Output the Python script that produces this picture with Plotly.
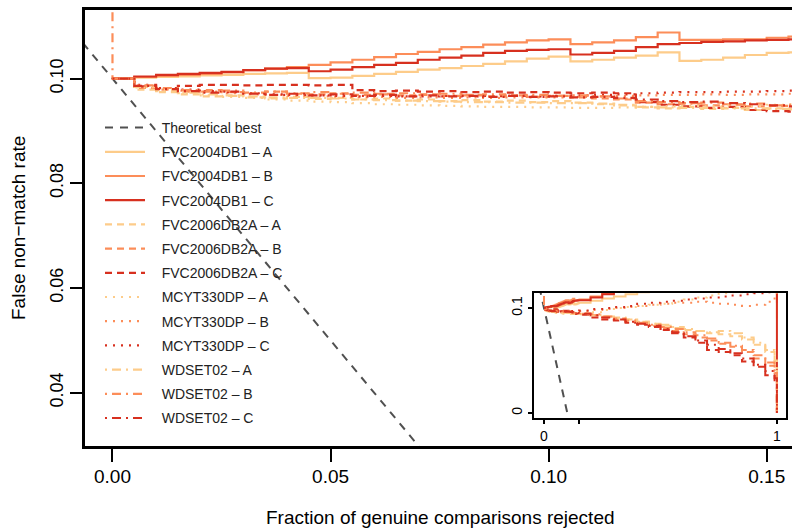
import plotly.graph_objects as go

# ---------------- data ----------------
x_grid = [0.000, 0.005, 0.010, 0.015, 0.020, 0.025, 0.030, 0.035, 0.040, 0.045,
          0.050, 0.055, 0.060, 0.065, 0.070, 0.075, 0.080, 0.085, 0.090, 0.095,
          0.100, 0.105, 0.110, 0.115, 0.120, 0.125, 0.130, 0.135, 0.140, 0.145,
          0.150, 0.155, 0.160]
x_tail = [0.20, 0.25, 0.30, 0.35, 0.40, 0.45, 0.50, 0.55, 0.60, 0.65,
          0.70, 0.75, 0.80, 0.85, 0.90, 0.95, 0.99, 1.00]

theory_x = [-0.02, 0.12]
theory_y = [0.12, -0.02]

fvc04_a = [0.1000, 0.1002, 0.1003, 0.1004, 0.1006, 0.1007, 0.1009, 0.1010, 0.1011, 0.1001,
           0.1002, 0.1005, 0.1009, 0.1013, 0.1017, 0.1020, 0.1024, 0.1028, 0.1033, 0.1038,
           0.1042, 0.1033, 0.1036, 0.1040, 0.1044, 0.1050, 0.1034, 0.1036, 0.1040, 0.1045,
           0.1049, 0.1050, 0.1049]
fvc04_a_tail = [0.107, 0.109, 0.111, 0.113, 0.115, 0.116, 0.117, 0.118, 0.118, 0.119,
                0.120, 0.120, 0.120, 0.120, 0.120, 0.120, 0.120, 0.090]
fvc04_b = [0.1000, 0.1003, 0.1005, 0.1007, 0.1009, 0.1012, 0.1016, 0.1019, 0.1022, 0.1026,
           0.1031, 0.1036, 0.1041, 0.1047, 0.1051, 0.1056, 0.1060, 0.1065, 0.1069, 0.1073,
           0.1075, 0.1066, 0.1069, 0.1073, 0.1079, 0.1088, 0.1074, 0.1074, 0.1075, 0.1075,
           0.1078, 0.1080, 0.1081]
fvc04_b_tail = [0.111, 0.114, 0.116, 0.118, 0.120, 0.120, 0.120, 0.120, 0.120, 0.120,
                0.120, 0.120, 0.120, 0.120, 0.120, 0.120, 0.120, 0.105]
fvc04_c = [0.1000, 0.1004, 0.1007, 0.1009, 0.1011, 0.1013, 0.1016, 0.1019, 0.1020, 0.1014,
           0.1017, 0.1022, 0.1026, 0.1030, 0.1036, 0.1040, 0.1044, 0.1049, 0.1053, 0.1055,
           0.1056, 0.1046, 0.1049, 0.1053, 0.1060, 0.1066, 0.1068, 0.1070, 0.1071, 0.1073,
           0.1074, 0.1075, 0.1075]
fvc04_c_tail = [0.110, 0.113, 0.116, 0.118, 0.120, 0.120, 0.120, 0.120, 0.120, 0.120,
                0.120, 0.120, 0.120, 0.120, 0.120, 0.120, 0.120, 0.000]

fvc06_a = [0.1000, 0.0979, 0.0974, 0.0970, 0.0966, 0.0968, 0.0964, 0.0962, 0.0965, 0.0961,
           0.0963, 0.0960, 0.0962, 0.0958, 0.0960, 0.0957, 0.0959, 0.0956, 0.0958, 0.0955,
           0.0957, 0.0954, 0.0951, 0.0949, 0.0945, 0.0943, 0.0946, 0.0942, 0.0944, 0.0940,
           0.0943, 0.0941, 0.0942]
fvc06_a_tail = [0.093, 0.092, 0.091, 0.089, 0.087, 0.085, 0.083, 0.081, 0.079, 0.078,
                0.076, 0.075, 0.073, 0.070, 0.065, 0.058, 0.045, 0.000]
fvc06_b = [0.1000, 0.0982, 0.0979, 0.0975, 0.0978, 0.0974, 0.0972, 0.0975, 0.0971, 0.0970,
           0.0972, 0.0969, 0.0971, 0.0968, 0.0970, 0.0967, 0.0969, 0.0966, 0.0968, 0.0965,
           0.0967, 0.0964, 0.0962, 0.0960, 0.0954, 0.0951, 0.0953, 0.0949, 0.0951, 0.0947,
           0.0948, 0.0945, 0.0946]
fvc06_b_tail = [0.093, 0.091, 0.089, 0.087, 0.085, 0.083, 0.081, 0.078, 0.075, 0.072,
                0.069, 0.066, 0.063, 0.058, 0.052, 0.045, 0.038, 0.000]
fvc06_c = [0.1000, 0.0985, 0.0982, 0.0986, 0.0988, 0.0988, 0.0987, 0.0988, 0.0988, 0.0987,
           0.0988, 0.0978, 0.0976, 0.0977, 0.0975, 0.0976, 0.0974, 0.0975, 0.0973, 0.0974,
           0.0973, 0.0972, 0.0973, 0.0972, 0.0955, 0.0950, 0.0947, 0.0944, 0.0946, 0.0940,
           0.0938, 0.0937, 0.0936]
fvc06_c_tail = [0.091, 0.089, 0.088, 0.086, 0.084, 0.082, 0.079, 0.076, 0.072, 0.067,
                0.060, 0.058, 0.055, 0.049, 0.044, 0.036, 0.030, 0.000]

mcyt_a = [0.1000, 0.0983, 0.0976, 0.0972, 0.0968, 0.0965, 0.0963, 0.0960, 0.0958, 0.0956,
          0.0955, 0.0953, 0.0951, 0.0950, 0.0949, 0.0948, 0.0947, 0.0946, 0.0946, 0.0945,
          0.0945, 0.0944, 0.0944, 0.0945, 0.0946, 0.0947, 0.0948, 0.0947, 0.0949, 0.0948,
          0.0950, 0.0951, 0.0951]
mcyt_a_tail = [0.096, 0.098, 0.100, 0.101, 0.102, 0.103, 0.104, 0.106, 0.108, 0.110,
               0.112, 0.114, 0.115, 0.116, 0.116, 0.116, 0.116, 0.116]
mcyt_b = [0.1000, 0.0986, 0.0981, 0.0977, 0.0975, 0.0972, 0.0970, 0.0969, 0.0967, 0.0966,
          0.0965, 0.0964, 0.0965, 0.0963, 0.0964, 0.0963, 0.0964, 0.0963, 0.0964, 0.0964,
          0.0964, 0.0965, 0.0966, 0.0967, 0.0968, 0.0969, 0.0969, 0.0970, 0.0969, 0.0970,
          0.0970, 0.0971, 0.0971]
mcyt_b_tail = [0.098, 0.099, 0.100, 0.101, 0.102, 0.103, 0.104, 0.105, 0.105, 0.106,
               0.105, 0.104, 0.103, 0.102, 0.103, 0.106, 0.112, 0.116]
mcyt_c = [0.1000, 0.0988, 0.0982, 0.0979, 0.0976, 0.0974, 0.0972, 0.0970, 0.0969, 0.0968,
          0.0967, 0.0966, 0.0967, 0.0966, 0.0966, 0.0967, 0.0966, 0.0967, 0.0967, 0.0966,
          0.0967, 0.0968, 0.0969, 0.0970, 0.0972, 0.0973, 0.0974, 0.0974, 0.0975, 0.0975,
          0.0976, 0.0977, 0.0977]
mcyt_c_tail = [0.099, 0.100, 0.101, 0.102, 0.104, 0.105, 0.106, 0.107, 0.108, 0.109,
               0.110, 0.111, 0.112, 0.113, 0.114, 0.115, 0.116, 0.116]

wd_a = [0.1000, 0.0984, 0.0978, 0.0973, 0.0970, 0.0967, 0.0966, 0.0964, 0.0963, 0.0963,
        0.0962, 0.0960, 0.0959, 0.0958, 0.0957, 0.0956, 0.0955, 0.0955, 0.0954, 0.0954,
        0.0953, 0.0953, 0.0952, 0.0950, 0.0946, 0.0945, 0.0944, 0.0944, 0.0943, 0.0943,
        0.0942, 0.0942, 0.0941]
wd_a_tail = [0.093, 0.092, 0.090, 0.089, 0.087, 0.085, 0.084, 0.082, 0.080, 0.078,
             0.077, 0.078, 0.076, 0.072, 0.067, 0.060, 0.050, 0.000]
wd_b_start = [0.1180]
wd_b = [0.1000, 0.0987, 0.0982, 0.0978, 0.0975, 0.0977, 0.0973, 0.0975, 0.0972, 0.0974,
        0.0971, 0.0973, 0.0970, 0.0972, 0.0969, 0.0971, 0.0968, 0.0970, 0.0968, 0.0969,
        0.0967, 0.0968, 0.0966, 0.0962, 0.0957, 0.0955, 0.0952, 0.0954, 0.0950, 0.0952,
        0.0949, 0.0950, 0.0949]
wd_b_tail = [0.094, 0.092, 0.090, 0.088, 0.086, 0.084, 0.082, 0.080, 0.077, 0.074,
             0.071, 0.067, 0.064, 0.060, 0.055, 0.048, 0.040, 0.000]
wd_c = [0.1000, 0.0986, 0.0980, 0.0976, 0.0973, 0.0975, 0.0971, 0.0969, 0.0971, 0.0968,
        0.0970, 0.0967, 0.0969, 0.0966, 0.0968, 0.0966, 0.0967, 0.0965, 0.0967, 0.0965,
        0.0966, 0.0964, 0.0965, 0.0963, 0.0960, 0.0957, 0.0955, 0.0956, 0.0953, 0.0951,
        0.0949, 0.0947, 0.0946]
wd_c_tail = [0.093, 0.091, 0.089, 0.087, 0.085, 0.083, 0.080, 0.077, 0.073, 0.069,
             0.065, 0.061, 0.057, 0.052, 0.046, 0.040, 0.033, 0.000]

series_names = ["FVC2004DB1 \u2013 A", "FVC2004DB1 \u2013 B", "FVC2004DB1 \u2013 C",
                "FVC2006DB2A \u2013 A", "FVC2006DB2A \u2013 B", "FVC2006DB2A \u2013 C",
                "MCYT330DP \u2013 A", "MCYT330DP \u2013 B", "MCYT330DP \u2013 C",
                "WDSET02 \u2013 A", "WDSET02 \u2013 B", "WDSET02 \u2013 C"]
theory_name = "Theoretical best"

x_ticks = [0.0, 0.05, 0.10, 0.15]
x_ticktext = ["0.00", "0.05", "0.10", "0.15"]
y_ticks = [0.04, 0.06, 0.08, 0.10]
y_ticktext = ["0.04", "0.06", "0.08", "0.10"]

# ---------------- styles ----------------
COL = ["#FDCC8A", "#FC8D59", "#D7301F"]
DASH = ["solid", "7px,5px", "2px,6px", "2px,5px,9px,5px"]
FONT = "Liberation Sans, Arial, Helvetica, sans-serif"
PAD = "\u00a0\u00a0\u00a0"   # gap between legend sample and its label

ys = [(fvc04_a, fvc04_a_tail), (fvc04_b, fvc04_b_tail), (fvc04_c, fvc04_c_tail),
      (fvc06_a, fvc06_a_tail), (fvc06_b, fvc06_b_tail), (fvc06_c, fvc06_c_tail),
      (mcyt_a, mcyt_a_tail), (mcyt_b, mcyt_b_tail), (mcyt_c, mcyt_c_tail),
      (wd_a, wd_a_tail), (wd_b, wd_b_tail), (wd_c, wd_c_tail)]


def series_xy(name, ym, yt):
    xs = x_grid + x_tail
    yy = ym + yt
    if name.startswith("WDSET02") and name.endswith("B"):
        xs = [x_grid[0]] + xs
        yy = wd_b_start + yy
    return xs, yy


fig = go.Figure()

fig.add_trace(go.Scatter(x=theory_x, y=theory_y, mode="lines", name=PAD + theory_name,
                         line=dict(color="#505050", width=2, dash="8px,7px"),
                         legendgroup="g0"))
for i, (name, (ym, yt)) in enumerate(zip(series_names, ys)):
    xs, yy = series_xy(name, ym, yt)
    line = dict(color=COL[i % 3], width=2.2, dash=DASH[i // 3])
    fig.add_trace(go.Scatter(x=xs, y=yy, mode="lines", name=PAD + name, line=line,
                             line_shape="hv", legendgroup="g%d" % (i + 1)))

# inset copies
fig.add_trace(go.Scatter(x=theory_x, y=theory_y, mode="lines", showlegend=False,
                         line=dict(color="#505050", width=2, dash="8px,7px"),
                         xaxis="x2", yaxis="y2"))
for i, (name, (ym, yt)) in enumerate(zip(series_names, ys)):
    xs, yy = series_xy(name, ym, yt)
    line = dict(color=COL[i % 3], width=2, dash=DASH[i // 3])
    fig.add_trace(go.Scatter(x=xs, y=yy, mode="lines", showlegend=False, line=line,
                             line_shape="hv", xaxis="x2", yaxis="y2"))

W, H = 792, 531
L, R, T, B = 85, 0, 10, 85
PW, PH = W - L - R, H - T - B


def px_x(p):
    return (p - L) / PW


def px_y(p):
    return (H - B - p) / PH


fig.update_layout(
    width=W, height=H,
    margin=dict(l=L, r=R, t=T, b=B),
    paper_bgcolor="white", plot_bgcolor="white",
    font=dict(family=FONT, color="black", size=15),
    xaxis=dict(range=[-0.0063, 0.1558], tickvals=x_ticks, ticktext=x_ticktext,
               ticks="outside", ticklen=13, tickwidth=2, tickcolor="black",
               showline=True, linewidth=2.5, linecolor="black", mirror=True,
               ticklabelstandoff=-2,
               showgrid=False, zeroline=False, tickfont=dict(size=19, family=FONT)),
    yaxis=dict(range=[0.02982, 0.1131], tickvals=y_ticks, ticktext=y_ticktext,
               ticks="outside", ticklen=12, tickwidth=2, tickcolor="black",
               tickangle=-90,
               showline=True, linewidth=2.5, linecolor="black", mirror=False,
               showgrid=False, zeroline=False, tickfont=dict(size=18, family=FONT)),
    xaxis2=dict(domain=[px_x(534), px_x(786)], anchor="y2", range=[-0.043, 1.039],
                tickvals=[0, 0.15, 1], ticktext=["0", "", "1"],
                ticks="outside", ticklen=4, tickwidth=1.5, tickcolor="black",
                showline=True, linewidth=2, linecolor="black", mirror=True,
                showgrid=False, zeroline=False, tickfont=dict(size=14, family=FONT)),
    yaxis2=dict(domain=[px_y(418), px_y(293)], anchor="x2", range=[-0.0048, 0.1143],
                tickvals=[0, 0.1], ticktext=["0", "0.1"], tickangle=-90,
                ticks="outside", ticklen=4, tickwidth=1.5, tickcolor="black",
                showline=True, linewidth=2, linecolor="black", mirror=True,
                showgrid=False, zeroline=False, tickfont=dict(size=14, family=FONT)),
    legend=dict(x=px_x(100), y=px_y(112),
                xanchor="left", yanchor="top", bgcolor="rgba(0,0,0,0)",
                borderwidth=0, font=dict(size=14, family=FONT, color="#222"),
                traceorder="grouped", tracegroupgap=3, itemwidth=40),
    annotations=[
        dict(text="Fraction of genuine comparisons rejected", xref="paper", yref="paper",
             x=px_x(440), y=px_y(517), xanchor="center",
             yanchor="middle", showarrow=False, font=dict(size=19, family=FONT)),
        dict(text="False non\u2212match rate", xref="paper", yref="paper",
             x=px_x(18), y=px_y(228), xanchor="center", yanchor="middle",
             textangle=-90, showarrow=False, font=dict(size=19, family=FONT)),
    ],
)

fig.write_html("out.html", config={"displayModeBar": False},
               post_script="document.body.style.margin='0px';"
                           "document.body.style.overflow='hidden';")
